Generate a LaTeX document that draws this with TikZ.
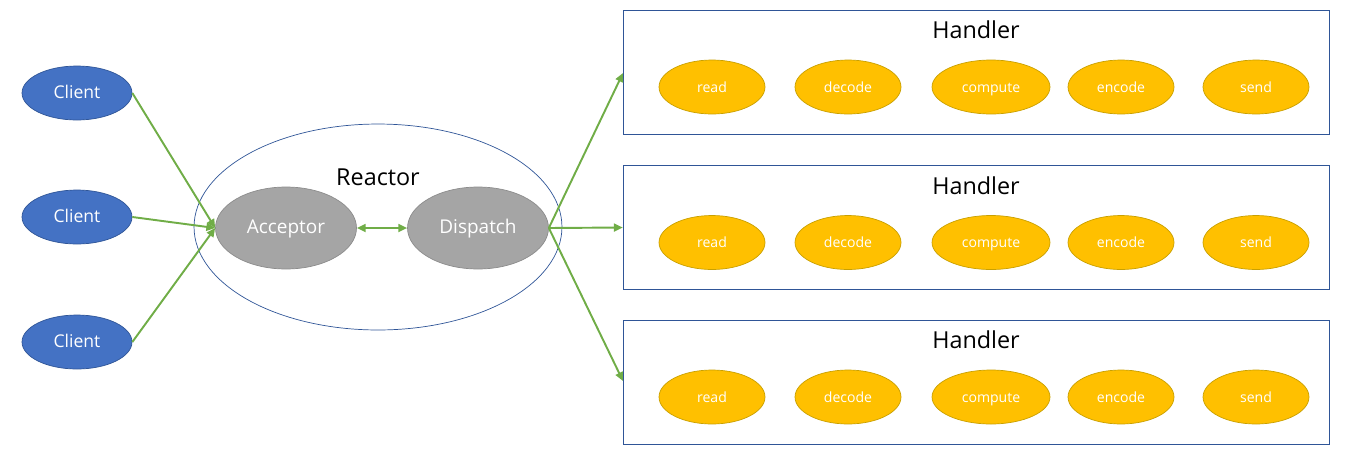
\documentclass[tikz,border=0pt]{standalone}
\usepackage{fontspec}
\setmainfont{Open Sans}
\usepackage{xcolor}
\usetikzlibrary{shapes.geometric,arrows.meta,positioning}

\definecolor{cblue}{HTML}{4472C4}
\definecolor{cdblue}{HTML}{2F5597}
\definecolor{cgray}{HTML}{A5A5A5}
\definecolor{cdgray}{HTML}{8C8C8C}
\definecolor{cyellow}{HTML}{FFC000}
\definecolor{cdyellow}{HTML}{C9A000}
\definecolor{cgreen}{HTML}{70AD47}

\tikzset{
	client/.style={ellipse,draw=cdblue,fill=cblue,text=white,minimum width=2.2cm,minimum height=1.08cm,inner sep=0pt,text height=1.5ex,text depth=.4ex,font=\fontsize{10}{12}\selectfont},
	core/.style={ellipse,draw=cdgray,fill=cgray,text=white,minimum width=2.82cm,minimum height=1.64cm,inner sep=0pt,text height=1.5ex,text depth=.4ex,font=\fontsize{10.8}{13}\selectfont},
	task/.style={ellipse,draw=cdyellow,fill=cyellow,text=white,minimum width=2.12cm,minimum height=1.08cm,inner sep=0pt,text height=1.5ex,text depth=.4ex,font=\fontsize{8}{10}\selectfont},
	hbox/.style={draw=cdblue,minimum width=14.12cm,minimum height=2.48cm,inner sep=0pt},
	title/.style={font=\fontsize{13.3}{15}\selectfont},
	flow/.style={cgreen,line width=1.1pt,-{Triangle[length=5pt,width=4.5pt]}}
}

\begin{document}
\begin{tikzpicture}[x=0.02cm,y=-0.02cm]
	\useasboundingbox (0,0) rectangle (1345,471);
	% reactor
	\node[ellipse,draw=cdblue,minimum width=7.36cm,minimum height=4.12cm] (reactor) at (378,227) {};
	\node[title] (rlabel) at (378,177) {Reactor};
	\node[core] (acc) at (286,228) {Acceptor};
	\node[core] (disp) at (478,228) {Dispatch};
	% clients
	\node[client] (c1) at (77,93) {Client};
	\node[client] (c2) at (77,217) {Client};
	\node[client] (c3) at (77,342) {Client};
	% handlers
	\foreach \i/\y in {1/72,2/227.5,3/382}{
		\node[hbox] (h\i) at (976,\y) {};
		\node[title] (hl\i) at (976,\y-42) {Handler};
		\node[task] (rd\i) at (712,\y+15) {read};
		\node[task] (dc\i) at (848,\y+15) {decode};
		\node[task,minimum width=2.36cm] (cp\i) at (991,\y+15) {compute};
		\node[task] (ec\i) at (1121,\y+15) {encode};
		\node[task] (sd\i) at (1256,\y+15) {send};
	}
	\coordinate (in1) at (623,73);
	\coordinate (in3) at (623,381);
	% connectors
	\draw[flow] (c1.east) -- (acc.west);
	\draw[flow] (c2.east) -- (acc.west);
	\draw[flow] (c3.east) -- (acc.west);
	\draw[cgreen,line width=1.1pt,{Triangle[length=5pt,width=4.5pt]}-{Triangle[length=5pt,width=4.5pt]}] (acc) -- (disp);
	\draw[flow] (disp.east) -- (in1);
	\draw[flow] (disp.east) -- (h2.west);
	\draw[flow] (disp.east) -- (in3);
\end{tikzpicture}
\end{document}
